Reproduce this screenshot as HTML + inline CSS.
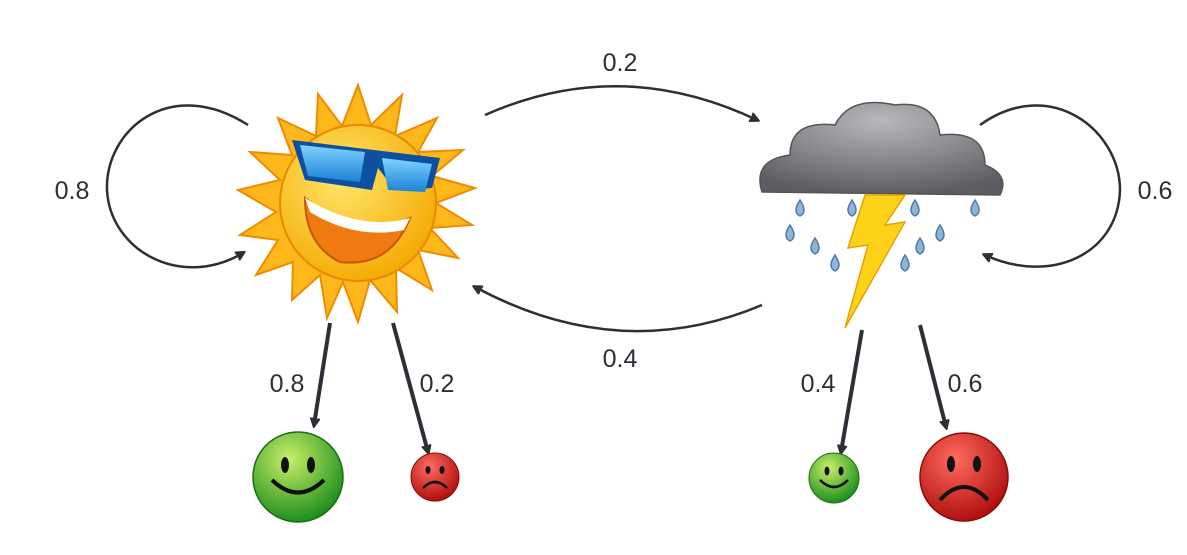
<!DOCTYPE html>
<html><head><meta charset="utf-8"><style>
body{margin:0;background:#fff;}
svg{display:block;font-family:"Liberation Sans",sans-serif;}
text{font-size:25px;fill:#2b2f36;}
</style></head><body>
<svg width="1187" height="555" viewBox="0 0 1187 555">
<defs>
<marker id="ah" markerWidth="10" markerHeight="10" refX="7" refY="5" orient="auto" markerUnits="userSpaceOnUse" viewBox="0 0 10 10">
<path d="M0,0 L10,5 L0,10 L3,5 z" fill="#2b2f36" transform="scale(1.4) translate(-2,-1.5)"/>
</marker>
<radialGradient id="sunG" cx="40%" cy="35%" r="70%"><stop offset="0" stop-color="#ffe66a"/><stop offset="1" stop-color="#f5a800"/></radialGradient>
<linearGradient id="lens" x1="0" y1="0" x2="0" y2="1"><stop offset="0" stop-color="#7fd3ff"/><stop offset="1" stop-color="#1a82d6"/></linearGradient>
<radialGradient id="cloudG" cx="50%" cy="20%" r="80%"><stop offset="0" stop-color="#b8b8bc"/><stop offset="1" stop-color="#5c5c62"/></radialGradient>
<radialGradient id="greenG" cx="40%" cy="30%" r="70%"><stop offset="0" stop-color="#c9f06a"/><stop offset="1" stop-color="#1f8f1c"/></radialGradient>
<radialGradient id="redG" cx="40%" cy="30%" r="70%"><stop offset="0" stop-color="#ff6b5f"/><stop offset="1" stop-color="#b0100e"/></radialGradient>
</defs>
<g fill="none" stroke="#2b2f36" stroke-width="2.5" marker-end="url(#ah)">
<path d="M485,115 Q620,55 757,120"/>
<path d="M762,305 Q620,365 475,287"/>
<path d="M248,125 C170,75 105,130 107,190 C110,250 180,290 243,253"/>
<path d="M980,125 C1050,75 1120,130 1120,190 C1118,255 1050,285 985,255"/>
</g>
<g fill="none" stroke="#2b2f36" stroke-width="4" marker-end="url(#ah)">
<path d="M330,323 L314,425"/>
<path d="M393,323 L428,452"/>
<path d="M862,330 L841,452"/>
<path d="M920,325 L946,427"/>
</g>
<g>
<g fill="#ffb81c" stroke="#f08a00" stroke-width="2">
<polygon points="358,85 371,125 402,95 395,136 437,118 418,152 463,150 432,176 475,188 436,203 472,225 430,228 458,258 418,250 432,290 396,268 397,312 370,280 358,322 343,282 327,318 320,275 292,300 293,262 256,275 278,240 240,235 276,212 238,190 280,180 250,152 292,155 278,118 316,136 318,94 342,126"/>
</g>
<circle cx="358" cy="203" r="78" fill="url(#sunG)" stroke="#e68a00" stroke-width="2"/>
<path d="M292,140 L440,158 L432,188 L395,190 L378,168 L372,190 L305,180 Z" fill="#0d4fa0"/>
<path d="M300,145 L365,152 L360,182 L308,176 Z" fill="url(#lens)"/>
<path d="M382,158 L432,164 L425,192 L388,190 Z" fill="url(#lens)"/>
<path d="M305,198 Q360,240 410,218 Q390,268 340,262 Q305,245 305,198 Z" fill="#f07a10" stroke="#c05a00" stroke-width="2"/>
<path d="M305,198 Q360,232 410,218 L404,230 Q355,240 310,212 Z" fill="#fff"/>
</g>
<g>
<path d="M762,192 Q752,160 790,155 Q790,120 835,125 Q850,95 895,105 Q935,100 940,135 Q985,130 985,165 Q1010,175 1000,195 Z" fill="url(#cloudG)" stroke="#555" stroke-width="1.5"/>
<polygon points="865,195 905,195 885,225 905,222 845,328 868,245 848,248" fill="#ffd21a" stroke="#e6a200" stroke-width="1.5"/>
<g fill="#8fb4d8" stroke="#4d7aa8" stroke-width="1.5">
<path d="M800,200 q-8,12 0,16 q8,-4 0,-16z"/><path d="M852,200 q-8,12 0,16 q8,-4 0,-16z"/><path d="M915,200 q-8,12 0,16 q8,-4 0,-16z"/><path d="M975,200 q-8,12 0,16 q8,-4 0,-16z"/>
<path d="M790,225 q-8,12 0,16 q8,-4 0,-16z"/><path d="M815,238 q-8,12 0,16 q8,-4 0,-16z"/><path d="M940,225 q-8,12 0,16 q8,-4 0,-16z"/><path d="M920,238 q-8,12 0,16 q8,-4 0,-16z"/>
<path d="M835,255 q-8,12 0,16 q8,-4 0,-16z"/><path d="M905,255 q-8,12 0,16 q8,-4 0,-16z"/>
</g>
</g>
<g>
<circle cx="298" cy="477" r="45" fill="url(#greenG)" stroke="#1a6e18" stroke-width="1.5"/>
<ellipse cx="285" cy="465" rx="4" ry="8" fill="#111"/><ellipse cx="311" cy="465" rx="4" ry="8" fill="#111"/>
<path d="M272,480 Q298,505 324,480" fill="none" stroke="#111" stroke-width="4"/>
</g>
<g>
<circle cx="435" cy="477" r="24" fill="url(#redG)" stroke="#8a0d0b" stroke-width="1"/>
<ellipse cx="428" cy="470" rx="2.5" ry="4" fill="#111"/><ellipse cx="442" cy="470" rx="2.5" ry="4" fill="#111"/>
<path d="M423,488 Q435,476 447,488" fill="none" stroke="#111" stroke-width="2.5"/>
</g>
<g>
<circle cx="834" cy="478" r="25" fill="url(#greenG)" stroke="#1a6e18" stroke-width="1"/>
<ellipse cx="827" cy="471" rx="2.5" ry="4.5" fill="#111"/><ellipse cx="841" cy="471" rx="2.5" ry="4.5" fill="#111"/>
<path d="M820,480 Q834,494 848,480" fill="none" stroke="#111" stroke-width="2.5"/>
</g>
<g>
<circle cx="964" cy="477" r="44" fill="url(#redG)" stroke="#8a0d0b" stroke-width="1.5"/>
<ellipse cx="951" cy="464" rx="4" ry="8" fill="#111"/><ellipse cx="977" cy="464" rx="4" ry="8" fill="#111"/>
<path d="M940,500 Q964,474 988,500" fill="none" stroke="#111" stroke-width="4"/>
</g>
<text x="620" y="71" text-anchor="middle">0.2</text>
<text x="72" y="199" text-anchor="middle">0.8</text>
<text x="1155" y="199" text-anchor="middle">0.6</text>
<text x="620" y="367" text-anchor="middle">0.4</text>
<text x="287" y="392" text-anchor="middle">0.8</text>
<text x="437" y="392" text-anchor="middle">0.2</text>
<text x="818" y="392" text-anchor="middle">0.4</text>
<text x="965" y="392" text-anchor="middle">0.6</text>
</svg>
</body></html>
